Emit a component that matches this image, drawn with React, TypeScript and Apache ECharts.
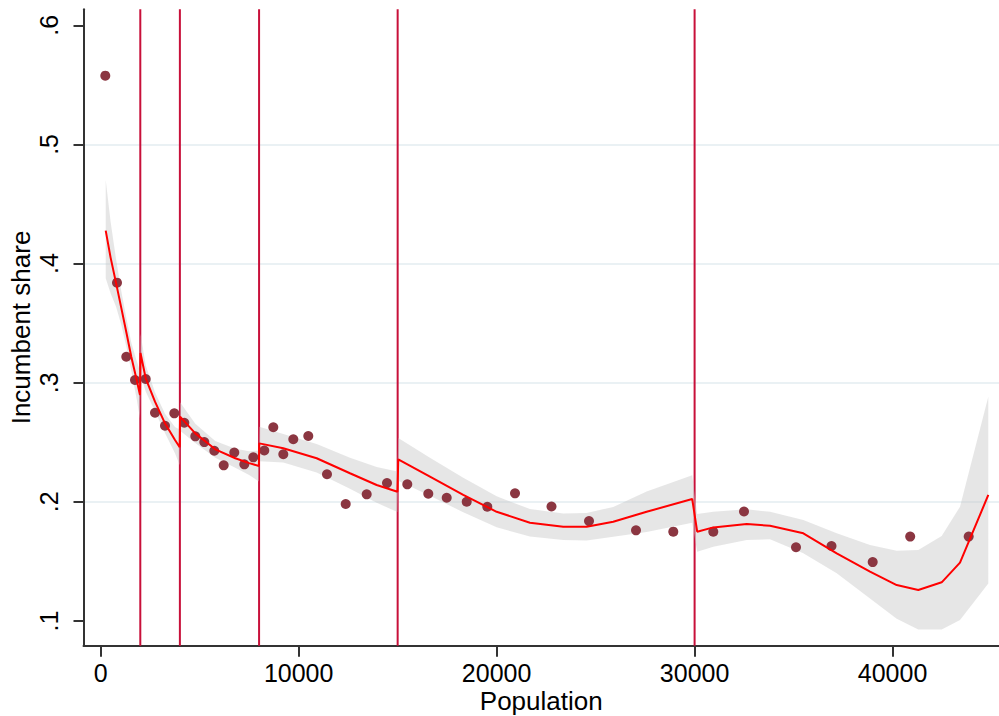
import React, { useEffect, useRef } from "react";
import * as echarts from "echarts";

// Binned scatter: population (x) vs incumbent share (y)
const popX = [232, 823, 1293, 1733, 2273, 2743, 3248, 3718, 4223, 4779, 5233, 5738, 6213, 6748, 7254, 7708, 8264, 8719, 9224, 9729, 10486, 11431, 12376, 13436, 14462, 15487, 16548, 17478, 18488, 19528, 20928, 22771, 24666, 27040, 28924, 30944, 32495, 35122, 36915, 38996, 40890, 43845];
const shareY = [0.5577, 0.384, 0.3218, 0.3023, 0.3031, 0.2748, 0.2639, 0.2743, 0.2664, 0.255, 0.2502, 0.2429, 0.2307, 0.2414, 0.2315, 0.2374, 0.2431, 0.2626, 0.24, 0.2526, 0.2553, 0.2232, 0.1982, 0.2063, 0.2158, 0.2147, 0.2068, 0.2035, 0.2001, 0.1959, 0.2072, 0.1961, 0.1839, 0.1761, 0.175, 0.175, 0.1919, 0.1619, 0.163, 0.1495, 0.1709, 0.1709];

// Piecewise fit with confidence interval
const fitX = [253, 500, 772, 1050, 1300, 1545, 1818, 1985,
  2010, 2273, 2742, 3247, 3753, 3990,
  4010, 4778, 5788, 6798, 7500, 7990,
  8010, 9222, 10909, 12591, 13939, 14990,
  15030, 16631, 18313, 20000, 21682, 23364, 24545, 25889, 27576, 29879,
  30131, 30945, 32632, 33809, 35491, 37178, 38860, 40208, 41299, 42481, 43406, 44836];
const fitY = [0.4276, 0.405, 0.384, 0.362, 0.342, 0.3218, 0.3023, 0.2897,
  0.325, 0.3037, 0.2841, 0.2659, 0.2519, 0.2458,
  0.2716, 0.2575, 0.2441, 0.2366, 0.2325, 0.2301,
  0.2491, 0.245, 0.2366, 0.224, 0.2142, 0.2085,
  0.2357, 0.2211, 0.2058, 0.1917, 0.1825, 0.1791, 0.1791, 0.1833, 0.1917, 0.2024,
  0.175, 0.1786, 0.1814, 0.18, 0.1736, 0.1568, 0.1414, 0.1302, 0.126, 0.1325, 0.149, 0.2058];
const ciLo = [0.3876, 0.375, 0.364, 0.348, 0.33, 0.3098, 0.2863, 0.2697,
  0.307, 0.2927, 0.2761, 0.2579, 0.2409, 0.2308,
  0.2596, 0.2495, 0.2371, 0.2286, 0.2225, 0.2171,
  0.2341, 0.233, 0.2246, 0.211, 0.1992, 0.1915,
  0.2177, 0.2051, 0.1913, 0.1787, 0.171, 0.168, 0.1676, 0.1708, 0.1747, 0.1824,
  0.1582, 0.1624, 0.168, 0.1686, 0.1568, 0.14, 0.119, 0.102, 0.093, 0.093, 0.1008, 0.1316];
const ciHi = [0.4701, 0.435, 0.404, 0.376, 0.354, 0.3338, 0.3183, 0.3097,
  0.341, 0.3147, 0.2921, 0.2739, 0.2629, 0.2608,
  0.2836, 0.2655, 0.2511, 0.2446, 0.2425, 0.2431,
  0.2631, 0.257, 0.2486, 0.237, 0.2292, 0.2255,
  0.2537, 0.2371, 0.2203, 0.2047, 0.194, 0.1902, 0.1906, 0.1958, 0.2087, 0.2224,
  0.1898, 0.1917, 0.1938, 0.1917, 0.1848, 0.1736, 0.1638, 0.159, 0.1596, 0.1713, 0.1959, 0.2883];

const thresholds = [2000, 4000, 8000, 15000, 30000];
const xTicks = [0, 10000, 20000, 30000, 40000];
const yTicks = [0.1, 0.2, 0.3, 0.4, 0.5, 0.6];

const X_MIN = -869;
const X_MAX = 45376;
const Y_MIN = 0.0793;
const Y_MAX = 0.6134;

export default function App() {
  const ref = useRef<HTMLDivElement>(null);
  useEffect(() => {
    document.body.style.margin = "0";
    const chart = echarts.init(ref.current as HTMLDivElement, null, { renderer: "svg" });
    const font = "'Liberation Sans', Arial, Helvetica, sans-serif";
    const bandData = fitX.map((x, i) => [x, ciLo[i], ciHi[i]]);
    const axisColor = "#333333";
    chart.setOption({
      animation: false,
      backgroundColor: "#ffffff",
      grid: { left: 83.5, right: 0, top: 9.3, bottom: 70.3, containLabel: false, outerBoundsMode: "none" },
      xAxis: {
        type: "value",
        min: X_MIN,
        max: X_MAX,
        axisLine: { show: true, onZero: false, lineStyle: { color: axisColor, width: 2 } },
        axisTick: { show: true, length: 11, customValues: xTicks, lineStyle: { color: axisColor, width: 2 } },
        axisLabel: {
          customValues: xTicks,
          formatter: (v: number) => String(Math.round(v)),
          margin: 15,
          fontSize: 25,
          color: "#000",
          fontFamily: font,
        },
        splitLine: { show: false },
        name: "Population",
        nameLocation: "middle",
        nameGap: 42,
        nameMoveOverlap: false,
        nameTextStyle: { fontSize: 26, lineHeight: 26, color: "#000", fontFamily: font },
      },
      yAxis: {
        type: "value",
        min: Y_MIN,
        max: Y_MAX,
        axisLine: { show: true, onZero: false, lineStyle: { color: axisColor, width: 2 } },
        axisTick: { show: true, length: 10, customValues: yTicks, lineStyle: { color: axisColor, width: 2 } },
        axisLabel: {
          customValues: yTicks,
          formatter: (v: number) => v.toFixed(1).replace(/^0/, ""),
          rotate: 90,
          margin: 22,
          fontSize: 25,
          color: "#000",
          fontFamily: font,
        },
        splitLine: { show: true, showMinLine: false, showMaxLine: false, lineStyle: { color: "#e3edf0", width: 1.5 } },
        name: "Incumbent share",
        nameLocation: "middle",
        nameGap: 50,
        nameRotate: 90,
        nameMoveOverlap: false,
        nameTextStyle: { fontSize: 26, lineHeight: 26, color: "#000", fontFamily: font },
      },
      series: [
        ...thresholds.map((t) => ({
          type: "line",
          data: [[t, Y_MIN], [t, Y_MAX]],
          symbol: "none",
          silent: true,
          lineStyle: { color: "#c8103a", width: 2 },
          z: 1,
        })),
        {
          type: "custom",
          silent: true,
          data: bandData,
          encode: { x: 0, y: [1, 2] },
          z: 2,
          renderItem: (params: any, api: any) => {
            if (params.dataIndex !== 0) return null;
            const upper = bandData.map((d) => api.coord([d[0], d[2]]));
            const lower = bandData.map((d) => api.coord([d[0], d[1]])).reverse();
            return {
              type: "polygon",
              shape: { points: upper.concat(lower) },
              style: { fill: "rgba(200,200,200,0.45)" },
            };
          },
        },
        {
          type: "scatter",
          data: popX.map((x, i) => [x, shareY[i]]),
          symbolSize: 10,
          itemStyle: { color: "#8b3641", opacity: 1 },
          z: 3,
        },
        {
          type: "line",
          data: fitX.map((x, i) => [x, fitY[i]]),
          symbol: "none",
          showSymbol: false,
          lineStyle: { color: "#ff0000", width: 2 },
          z: 4,
        },
      ],
    });
    return () => chart.dispose();
  }, []);
  return <div ref={ref} style={{ position: "fixed", left: 0, top: 0, width: 999, height: 716 }} />;
}
